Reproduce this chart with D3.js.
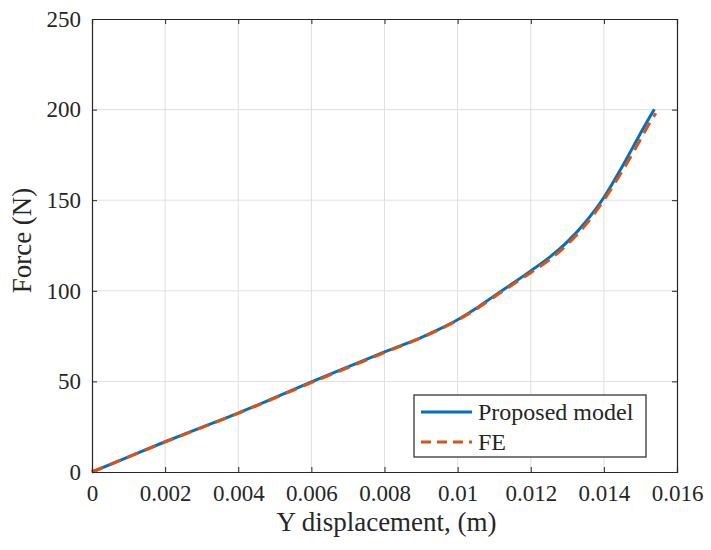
<!DOCTYPE html>
<html>
<head>
<meta charset="utf-8">
<script src="https://cdn.jsdelivr.net/npm/d3@7"></script>
<style>
  body { margin: 0; background: #fff; }
  svg text { font-family: "Liberation Serif", "Times New Roman", serif; fill: #262626; }
  .grid line { stroke: #dfdfdf; stroke-width: 1; }
  .axis path, .axis line { stroke: #262626; }
</style>
</head>
<body>
<div id="chart"></div>
<script>
// displacement (m) / force (N)
var modelDisp  = [0, 0.001, 0.002, 0.003, 0.004, 0.005, 0.006, 0.007, 0.008, 0.009, 0.0095, 0.01, 0.0105, 0.011, 0.0115, 0.012, 0.0125, 0.013, 0.0135, 0.014, 0.0145, 0.015, 0.0152, 0.01538];
var modelForce = [0, 8.4, 16.7, 24.6, 32.5, 41, 49.7, 58, 66.3, 74.2, 78.8, 84, 90.2, 97.2, 104, 111, 118.3, 127, 138, 151.5, 168.5, 186.8, 194, 200.2];

var feDisp  = [0, 0.001, 0.002, 0.003, 0.004, 0.005, 0.006, 0.007, 0.008, 0.009, 0.0095, 0.01, 0.0105, 0.011, 0.0115, 0.012, 0.0125, 0.013, 0.0135, 0.014, 0.0145, 0.015, 0.0152, 0.01542];
var feForce = [0, 8.3, 16.6, 24.5, 32.4, 40.8, 49.3, 57.6, 65.9, 74, 78.6, 83.8, 89.8, 96.6, 103.3, 110, 117, 125.6, 136.4, 150, 166, 183.5, 190.8, 198];

var xTicks = [0, 0.002, 0.004, 0.006, 0.008, 0.01, 0.012, 0.014, 0.016];
var yTicks = [0, 50, 100, 150, 200, 250];
var seriesNames = ["Proposed model", "FE"];

var width = 711, height = 550;
var margin = {top: 19, right: 34, bottom: 78, left: 92};
var w = width - margin.left - margin.right,
    h = height - margin.top - margin.bottom;

var fontStack = '"Liberation Serif", "Times New Roman", serif';

var svg = d3.select("#chart").append("svg")
    .attr("width", width)
    .attr("height", height);

var g = svg.append("g")
    .attr("transform", "translate(" + margin.left + "," + margin.top + ")");

var x = d3.scaleLinear().domain([0, 0.016]).range([0, w]);
var y = d3.scaleLinear().domain([0, 250]).range([h, 0]);

// grid
var grid = g.append("g").attr("class", "grid");
grid.selectAll(".gx").data(xTicks.slice(1, -1)).enter().append("line")
    .attr("x1", function (d) { return x(d); }).attr("x2", function (d) { return x(d); })
    .attr("y1", 0).attr("y2", h);
grid.selectAll(".gy").data(yTicks.slice(1, -1)).enter().append("line")
    .attr("y1", function (d) { return y(d); }).attr("y2", function (d) { return y(d); })
    .attr("x1", 0).attr("x2", w);

// lines
var line = d3.line()
    .curve(d3.curveMonotoneX)
    .x(function (d) { return x(d[0]); })
    .y(function (d) { return y(d[1]); });

var modelData = d3.zip(modelDisp, modelForce);
var feData = d3.zip(feDisp, feForce);

g.append("path")
    .datum(modelData)
    .attr("fill", "none")
    .attr("stroke", "#0072BD")
    .attr("stroke-width", 3)
    .attr("d", line);

g.append("path")
    .datum(feData)
    .attr("fill", "none")
    .attr("stroke", "#D95319")
    .attr("stroke-width", 3)
    .attr("stroke-dasharray", "12,7")
    .attr("d", line);

// axes, ticks inward on all four sides
function fmtX(d) { return d === 0 ? "0" : String(+d.toFixed(3)); }

var xaxis = g.append("g").attr("class", "axis")
    .attr("transform", "translate(0," + h + ")")
    .call(d3.axisBottom(x).tickValues(xTicks).tickSize(-5).tickPadding(12).tickFormat(fmtX));
var yaxis = g.append("g").attr("class", "axis")
    .call(d3.axisLeft(y).tickValues(yTicks).tickSize(-5).tickPadding(11));
g.append("g").attr("class", "axis")
    .call(d3.axisTop(x).tickValues(xTicks).tickSize(-5).tickFormat(""));
g.append("g").attr("class", "axis")
    .attr("transform", "translate(" + w + ",0)")
    .call(d3.axisRight(y).tickValues(yTicks).tickSize(-5).tickFormat(""));

svg.selectAll(".axis").attr("font-family", fontStack);
svg.selectAll(".axis path").attr("stroke-width", 1.2);
svg.selectAll(".axis text")
    .style("font-family", fontStack)
    .style("font-size", "23px")
    .attr("fill", "#262626");
xaxis.selectAll("text").attr("dy", "0.72em");

// axis labels
svg.append("text")
    .attr("x", margin.left + w / 2 + 2)
    .attr("y", 531)
    .attr("text-anchor", "middle")
    .style("font-size", "27px")
    .text("Y displacement, (m)");

svg.append("text")
    .attr("transform", "translate(31," + (margin.top + h / 2 - 5) + ") rotate(-90)")
    .attr("text-anchor", "middle")
    .style("font-size", "27px")
    .text("Force (N)");

// legend
var legend = svg.append("g").attr("transform", "translate(414,395)");
legend.append("rect")
    .attr("width", 232).attr("height", 62)
    .attr("fill", "#fff")
    .attr("stroke", "#262626")
    .attr("stroke-width", 1.2);

var legendStyles = [
  {color: "#0072BD", dash: null},
  {color: "#D95319", dash: "10,6"}
];
seriesNames.forEach(function (name, i) {
  var cy = 17 + i * 30;
  legend.append("line")
      .attr("x1", 7).attr("x2", 58)
      .attr("y1", cy).attr("y2", cy)
      .attr("stroke", legendStyles[i].color)
      .attr("stroke-width", 3)
      .attr("stroke-dasharray", legendStyles[i].dash);
  legend.append("text")
      .attr("x", 64).attr("y", cy)
      .attr("dy", "0.35em")
      .style("font-size", "24px")
      .text(name);
});
</script>
</body>
</html>
